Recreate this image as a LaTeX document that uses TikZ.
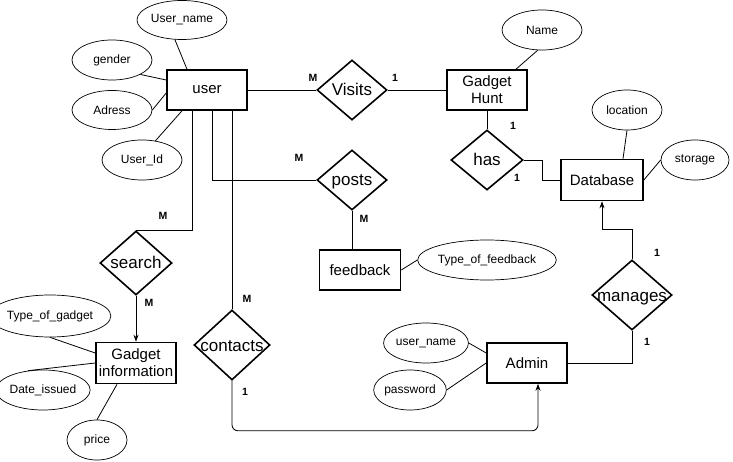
\documentclass[tikz,border=0pt]{standalone}
\usepackage{fontspec}
\setmainfont{Liberation Sans}
\usetikzlibrary{shapes.geometric,arrows.meta}
\tikzset{
  ent/.style={draw, line width=1.6pt, minimum width=80pt, minimum height=40pt, inner sep=0pt, align=center, font=\fontsize{15}{17}\selectfont},
  attr/.style={draw, ellipse, line width=0.7pt, inner sep=0pt, font=\fontsize{12}{14}\selectfont},
  rel/.style={draw, diamond, line width=1.6pt, inner sep=0pt},
  reltext/.style={font=\fontsize{17}{20}\selectfont, inner sep=0pt, text height=12pt, text depth=0pt},
  card/.style={font=\fontsize{10.5}{12}\selectfont\bfseries, inner sep=0pt},
  conn/.style={line width=0.8pt},
  arr/.style={conn, -{Stealth[length=7pt,width=5pt]}}
}
\begin{document}
\begin{tikzpicture}[x=1pt,y=-1pt]
\useasboundingbox (0,0) rectangle (733,462);
% entities
\node[ent, text height=8pt, text depth=0pt] (user) at (207,90) {user};
\node[ent] (gh) at (487,90) {Gadget\\Hunt};
\node[ent, minimum width=82pt, minimum height=41pt] (db) at (602,180) {Database};
\node[ent, minimum width=81pt] (fb) at (360,270) {feedback};
\node[ent] (admin) at (527,363) {Admin};
\node[ent, minimum height=41pt] (gi) at (136,363) {Gadget\\information};
% relationships
\node[rel, minimum width=70pt, minimum height=60pt] (visits) at (352,90) {};
\node[reltext] at (visits) {Visits};
\node[rel, minimum width=70pt, minimum height=60pt] (posts) at (352,180) {};
\node[reltext] at (posts) {posts};
\node[rel, minimum width=72pt, minimum height=60pt] (has) at (487,160) {};
\node[reltext] at (has) {has};
\node[rel, minimum width=72pt, minimum height=64pt] (search) at (136,263) {};
\node[reltext] at (search) {search};
\node[rel, minimum width=76pt, minimum height=70pt] (contacts) at (232,345) {};
\node[reltext] at (contacts) {contacts};
\node[rel, minimum width=80pt, minimum height=70pt] (manages) at (632,295) {};
\node[reltext] at (manages) {manages};
% attributes
\node[attr, minimum width=90pt, minimum height=39pt] (uname) at (182,20) {User\_name};
\node[attr, minimum width=80pt, minimum height=40pt] (gender) at (112,60) {gender};
\node[attr, minimum width=80pt, minimum height=39pt] (adress) at (112,110) {Adress};
\node[attr, minimum width=80pt, minimum height=40pt] (uid) at (142,160) {User\_Id};
\node[attr, minimum width=80pt, minimum height=40pt] (name) at (542,30) {Name};
\node[attr, minimum width=70pt, minimum height=40pt] (loc) at (627,110) {location};
\node[attr, minimum width=68pt, minimum height=40pt] (stor) at (695,160) {storage};
\node[attr, minimum width=108pt, minimum height=40pt] (tof) at (487,260) {Type\_of\_feedback};
\node[attr, minimum width=70pt, minimum height=40pt] (aun) at (426,343) {user\_name};
\node[attr, minimum width=70pt, minimum height=40pt] (pw) at (410,390) {password};
\node[attr, minimum width=95pt, minimum height=42pt] (tog) at (50,316) {Type\_of\_gadget};
\node[attr, minimum width=80pt, minimum height=40pt] (date) at (43,390) {Date\_issued};
\node[attr, minimum width=60pt, minimum height=40pt] (price) at (97,440) {price};
% attribute links
\draw[conn] (uname.250) -- ([xshift=-20pt]user.north);
\draw[conn] (gender.333) -- ([yshift=10pt]user.west);
\draw[conn] (adress.east) -- ([yshift=-3pt]user.west);
\draw[conn] (uid.55) -- ([xshift=-25pt]user.south);
\draw[conn] (name.258) -- ([xshift=29pt]gh.north);
\draw[conn] (loc.south) -- ([xshift=21pt]db.north);
\draw[conn] (stor.west) -- (db.east);
\draw[conn] (fb.east) -- (tof.west);
\draw[conn] (aun.east) -- ([yshift=10pt]admin.west);
\draw[conn] (pw.east) -- (admin.west);
\draw[conn] (tog.south) -- ([yshift=10pt]gi.west);
\draw[conn] (date.128) -- (gi.west);
\draw[conn] (price.north) -- ([xshift=-19pt]gi.south);
% relationship links
\draw[conn] (user.east) -- (visits.west);
\draw[conn] (visits.east) -- (gh.west);
\draw[conn] (gh.south) -- (has.north);
\draw[conn] (has.east) -- ++(19,0) |- (db.west);
\draw[conn] ([xshift=5pt]user.south) |- (posts.west);
\draw[conn] (posts.south) -- (posts.south |- fb.north);
\draw[conn] ([xshift=-15pt]user.south) |- (search.north);
\draw[arr] (search.south) -- (gi.north);
\draw[conn] ([xshift=25pt]user.south) -- (contacts.north);
\draw[arr, rounded corners=6pt] (contacts.south) |- ([xshift=11pt,yshift=-47pt]admin.south) -- ([xshift=11pt]admin.south);
\draw[conn] (admin.east) -| (manages.south);
\draw[arr] (manages.north) -- ++(0,-30) -| (db.south);
% cardinalities
\node[card] at (313,78) {M};
\node[card] at (395,78) {1};
\node[card] at (513,126) {1};
\node[card] at (517,178) {1};
\node[card] at (299,158) {M};
\node[card] at (364,219) {M};
\node[card] at (163,216) {M};
\node[card] at (149,303) {M};
\node[card] at (247,299) {M};
\node[card] at (245,392) {1};
\node[card] at (657,253) {1};
\node[card] at (647,342) {1};
\end{tikzpicture}
\end{document}
